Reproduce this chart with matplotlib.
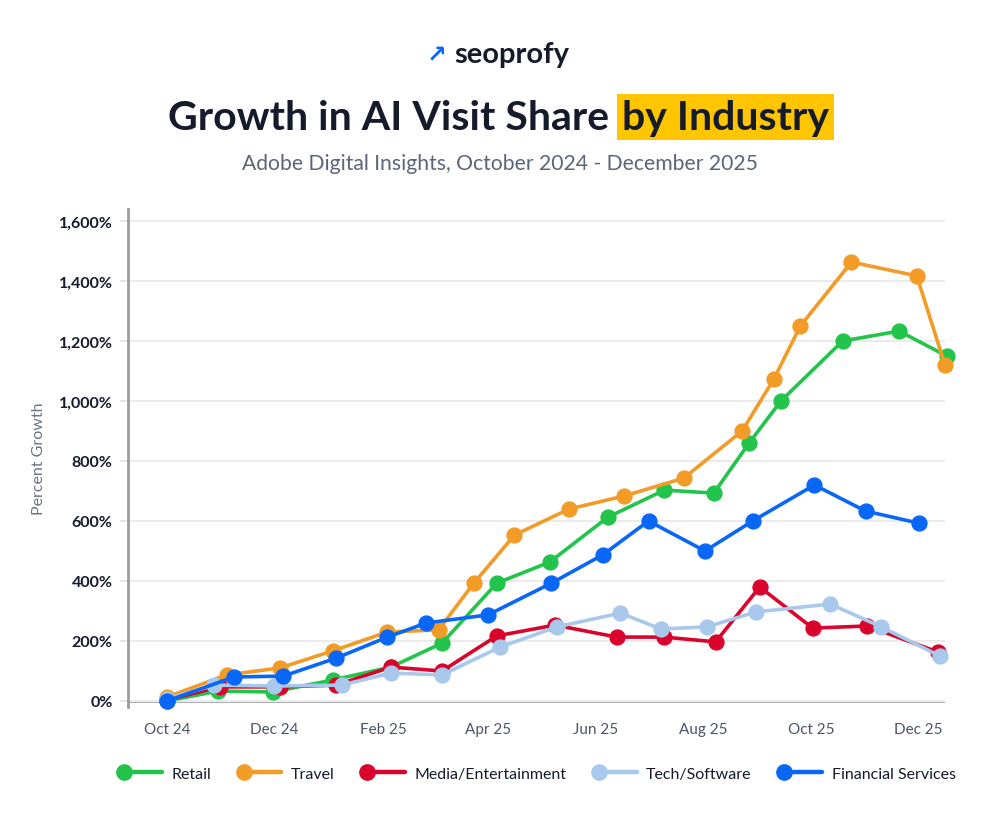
import pandas as pd
import matplotlib
matplotlib.use("Agg")
import matplotlib.pyplot as plt
import matplotlib.dates as mdates
from matplotlib.lines import Line2D
from matplotlib.legend_handler import HandlerLine2D
from matplotlib.ticker import FuncFormatter, MultipleLocator

plt.rcParams['font.family'] = ['Lato', 'DejaVu Sans']

# data (percent growth vs Oct 2024)
retail_dates = ['2024-10-01', '2024-10-30', '2024-11-30', '2025-01-03', '2025-02-05', '2025-03-06',
                '2025-04-06', '2025-05-06', '2025-06-08', '2025-07-10', '2025-08-07', '2025-08-27',
                '2025-09-14', '2025-10-19', '2025-11-20', '2025-12-17']
retail = [0, 33, 30, 70, 113, 193, 393, 463, 613, 703, 693, 860, 1000, 1200, 1233, 1150]

travel_dates = ['2024-10-01', '2024-11-04', '2024-12-04', '2025-01-03', '2025-02-03', '2025-03-04',
                '2025-03-24', '2025-04-16', '2025-05-17', '2025-06-17', '2025-07-21', '2025-08-23',
                '2025-09-10', '2025-09-25', '2025-10-24', '2025-11-30', '2025-12-16']
travel = [13, 87, 110, 167, 230, 237, 393, 553, 640, 683, 743, 900, 1073, 1250, 1463, 1417, 1120]

media_dates = ['2024-10-01', '2024-10-31', '2024-12-04', '2025-01-05', '2025-02-05', '2025-03-06',
               '2025-04-06', '2025-05-09', '2025-06-13', '2025-07-10', '2025-08-08', '2025-09-02',
               '2025-10-02', '2025-11-02', '2025-12-12']
media = [3, 47, 47, 53, 113, 100, 217, 253, 213, 213, 197, 380, 243, 250, 163]

tech_dates = ['2024-10-01', '2024-10-28', '2024-12-01', '2025-01-08', '2025-02-05', '2025-03-06',
              '2025-04-08', '2025-05-10', '2025-06-15', '2025-07-08', '2025-08-03', '2025-08-31',
              '2025-10-12', '2025-11-10', '2025-12-13']
tech = [7, 53, 50, 53, 93, 87, 180, 247, 293, 240, 247, 297, 323, 247, 150]

fin_dates = ['2024-10-01', '2024-11-08', '2024-12-06', '2025-01-05', '2025-02-03', '2025-02-25',
             '2025-04-01', '2025-05-07', '2025-06-05', '2025-07-01', '2025-08-02', '2025-08-29',
             '2025-10-03', '2025-11-01', '2025-12-01']
fin = [0, 80, 83, 143, 213, 260, 287, 393, 487, 600, 500, 600, 720, 633, 593]

series = [
    ('Retail', retail_dates, retail, '#22C44B'),
    ('Travel', travel_dates, travel, '#F29B26'),
    ('Media/Entertainment', media_dates, media, '#D9042B'),
    ('Tech/Software', tech_dates, tech, '#A8C8EC'),
    ('Financial Services', fin_dates, fin, '#0867F7'),
]


class DotLineHandler(HandlerLine2D):
    """legend key: dot on the left, line running to the right"""
    def create_artists(self, legend, orig_handle, xdescent, ydescent,
                       width, height, fontsize, trans):
        y = height / 2 - ydescent
        c = orig_handle.get_color()
        line = Line2D([-xdescent + 4, -xdescent + width], [y, y], color=c, lw=3.2,
                      solid_capstyle='round')
        dot = Line2D([-xdescent + 4], [y], marker='o', ms=11, color=c, ls='none')
        line.set_transform(trans)
        dot.set_transform(trans)
        return [line, dot]


fig = plt.figure(figsize=(10, 8.2), dpi=100)
ax = fig.add_axes([0.128, 0.1366, 0.817, 0.6073])

for name, dates, vals, color in series:
    ax.plot(pd.to_datetime(dates), vals, color=color, lw=2.6, marker='o', ms=10.7,
            label=name, solid_joinstyle='round', zorder=3, clip_on=False)

ax.set_ylim(-20, 1640)
ax.set_xlim(pd.Timestamp('2024-09-09'), pd.Timestamp('2025-12-16'))
ax.yaxis.set_major_locator(MultipleLocator(200))
ax.yaxis.set_major_formatter(FuncFormatter(lambda v, p: f'{v:,.0f}%'))
ax.xaxis.set_major_locator(mdates.MonthLocator(bymonth=[2, 4, 6, 8, 10, 12]))
ax.xaxis.set_major_formatter(mdates.DateFormatter('%b %y'))

ax.grid(axis='y', color='#EBEBEB', lw=1.5, zorder=0)
ax.axhline(0, color='#A3A3AA', lw=2, zorder=1)
for s in ['top', 'right', 'bottom']:
    ax.spines[s].set_visible(False)
ax.spines['left'].set_color('#9C9C9C')
ax.spines['left'].set_linewidth(2)
ax.tick_params(axis='y', length=6, width=1.5, color='#E6E6E6', pad=5,
               labelsize=11.5, labelcolor='#161B2B')
ax.tick_params(axis='x', length=0, pad=11, labelsize=11, labelcolor='#4B5468')
for t in ax.get_yticklabels():
    t.set_fontweight('bold')
ax.set_ylabel('Percent Growth', fontsize=11.5, color='#6B7385', labelpad=9)

leg = ax.legend(handler_map={Line2D: DotLineHandler()}, loc='center',
                bbox_to_anchor=(0.537, 0.0555), bbox_transform=fig.transFigure,
                ncol=5, frameon=False, fontsize=11.5, handlelength=2.7,
                handletextpad=0.6, columnspacing=1.7, labelcolor='#161B2B')

# header
fig.text(0.437, 0.933, '\u2197', color='#0867F7', fontsize=17, fontweight='bold',
         ha='center', va='center', family=['DejaVu Sans'])
fig.text(0.5115, 0.933, 'seoprofy', color='#161B2B', fontsize=21, fontweight='bold',
         ha='center', va='center')
fig.text(0.609, 0.856, 'Growth in AI Visit Share', color='#161B2B', fontsize=29.5,
         fontweight='bold', ha='right', va='center')
fig.text(0.622, 0.856, 'by Industry', color='#161B2B', fontsize=29.5, fontweight='bold',
         ha='left', va='center',
         bbox=dict(boxstyle='square,pad=0.12', fc='#FFC600', ec='none'))
fig.text(0.5, 0.8, 'Adobe Digital Insights, October 2024 - December 2025', color='#5B6578',
         fontsize=15.2, ha='center', va='center')

fig.savefig('out.png', dpi=100, facecolor='white')
